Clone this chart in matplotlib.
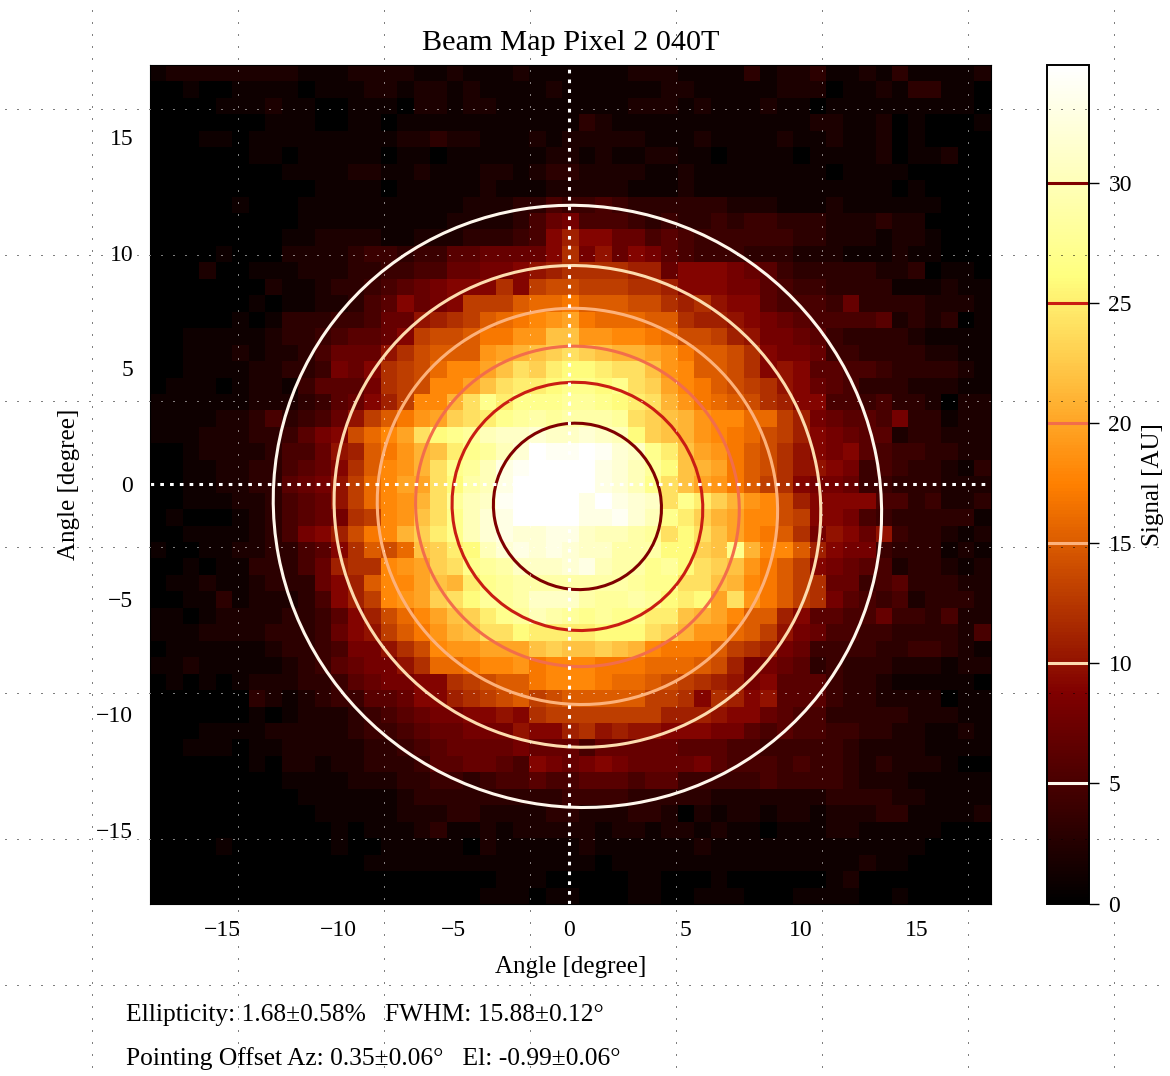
import numpy as np
import matplotlib
matplotlib.use('Agg')
import matplotlib.pyplot as plt
from matplotlib.patches import Ellipse

plt.rcParams['font.family'] = ['Liberation Serif', 'DejaVu Serif']

# Signal, top row first: columns left of the centre line
signal_left = [
    [1,2,2,2,2,2,2,2,2,1, 1,1,2,2,2,2,1,1,2,1, 1,1,2,1,1,1],
    [0,0,1,0,0,1,1,1,1,0, 1,1,1,2,2,1,2,2,1,2, 1,1,1,1,2,1],
    [0,0,0,0,1,1,1,2,1,1, 0,0,1,1,1,0,2,2,1,2, 2,1,1,1,1,1],
    [0,0,0,0,0,0,0,1,1,1, 0,0,1,1,0,1,1,1,1,1, 1,1,1,1,1,1],
    [0,0,0,1,1,0,1,1,1,1, 1,1,1,1,1,2,2,3,2,2, 1,1,1,2,1,2],
    [0,0,0,0,0,0,1,1,0,1, 1,1,1,1,0,1,1,0,1,1, 1,1,1,1,2,2],
    [0,0,0,0,0,0,0,0,1,1, 1,1,2,2,1,1,2,1,1,1, 2,2,1,2,3,3],
    [0,0,0,0,0,0,0,0,0,0, 1,1,1,1,0,1,1,1,1,1, 2,1,1,1,2,2],
    [0,0,0,0,0,1,0,0,0,1, 1,1,1,1,1,1,1,1,1,2, 2,2,3,3,5,4],
    [0,0,0,0,0,0,0,0,0,1, 1,1,1,1,1,1,1,1,2,2, 2,2,3,5,7,8],
    [0,0,0,0,0,0,0,0,1,1, 2,2,2,2,1,1,2,2,2,3, 3,3,4,5,9,11],
    [0,0,0,0,1,0,0,0,2,2, 2,2,3,4,4,3,4,4,6,6, 7,7,7,7,9,12],
    [0,0,0,2,0,0,1,1,1,2, 2,2,3,3,4,4,5,5,7,7, 8,8,9,10,11,12],
    [0,0,0,0,0,0,0,2,1,1, 2,3,3,4,5,6,7,8,9,9, 9,12,9,13,14,14],
    [0,0,0,0,0,0,1,0,1,1, 2,2,3,5,6,9,7,8,9,13, 13,13,15,16,16,17],
    [0,0,0,0,0,1,0,1,3,3, 3,4,4,5,7,7,10,11,12,13, 15,16,17,18,19,20],
    [0,0,1,1,1,1,1,2,3,3, 4,5,6,6,7,9,13,14,14,15, 17,17,19,19,22,22],
    [0,0,1,1,1,2,1,2,2,3, 5,7,7,7,10,12,14,15,15,15, 19,20,21,22,23,24],
    [0,0,1,1,1,1,2,2,3,3, 4,8,7,9,12,13,14,16,18,18, 20,22,24,23,25,26],
    [0,1,1,1,0,1,2,2,1,4, 6,6,6,8,12,13,14,18,18,20, 22,24,25,25,26,27],
    [1,1,1,1,1,1,2,2,2,3, 4,6,7,9,11,13,18,18,21,24, 27,25,27,27,27,28],
    [1,1,1,1,2,2,3,5,3,4, 5,7,10,13,15,17,19,20,23,24, 25,27,28,29,28,29],
    [1,1,1,2,2,2,3,3,4,6, 8,9,14,16,18,20,24,26,27,28, 30,31,31,32,31,31],
    [0,0,1,2,2,2,2,3,5,5, 7,10,11,15,17,19,21,22,25,27, 28,30,32,35,34,34],
    [0,0,1,1,2,2,3,3,5,6, 7,9,12,15,18,19,21,24,27,28, 30,33,34,35,35,35],
    [0,0,1,1,2,2,3,3,6,7, 8,10,13,16,18,20,20,24,26,29, 30,33,35,35,35,35],
    [0,0,1,1,1,2,2,3,5,6, 7,10,13,16,18,19,21,24,28,30, 31,34,35,35,35,35],
    [0,1,0,0,0,1,2,3,5,6, 7,8,12,13,18,19,22,24,27,30, 32,33,35,35,35,35],
    [0,0,1,1,1,1,2,3,5,8, 9,11,14,17,18,21,23,25,27,30, 32,33,32,32,33,33],
    [1,0,0,1,1,2,2,3,3,5, 6,9,12,15,14,16,22,23,25,26, 30,32,33,32,33,32],
    [0,0,1,0,1,1,3,3,3,5, 7,11,12,12,18,19,20,23,24,27, 28,29,31,31,31,32],
    [0,1,1,2,1,1,2,3,3,3, 7,9,11,15,18,18,20,22,21,25, 27,28,29,29,29,29],
    [0,0,1,1,3,1,2,2,2,3, 5,9,11,13,18,19,20,23,24,26, 28,28,29,31,31,31],
    [1,1,0,1,2,2,2,2,3,3, 4,6,9,11,14,16,18,20,22,23, 25,27,28,30,29,28],
    [1,1,1,2,2,2,2,3,3,3, 4,7,9,10,13,15,17,19,21,22, 24,24,26,25,25,25],
    [0,1,1,1,1,1,1,2,3,3, 4,5,8,8,10,12,14,18,19,19, 20,20,20,22,23,22],
    [1,1,2,1,1,1,1,1,2,3, 4,6,7,8,8,10,12,16,16,17, 18,18,19,17,18,18],
    [0,1,0,1,0,1,2,2,2,3, 3,4,6,7,8,8,9,9,12,13, 14,15,15,17,18,18],
    [0,0,0,0,0,0,3,2,1,2, 3,4,4,6,6,7,9,9,11,12, 13,14,15,13,14,15],
    [0,0,0,0,0,0,1,0,1,2, 2,2,3,4,5,6,7,8,8,9, 9,10,9,12,13,13],
    [0,0,0,1,1,1,1,2,2,2, 2,2,3,4,4,5,6,7,7,8, 8,8,10,9,9,11],
    [0,0,1,1,1,0,1,1,2,2, 2,2,2,3,3,4,5,6,7,7, 7,7,8,7,7,7],
    [0,0,0,0,0,0,1,0,2,2, 1,2,2,3,3,3,4,6,6,7, 7,6,5,9,8,7],
    [0,0,0,0,0,0,0,0,1,1, 1,1,2,2,2,3,3,4,4,3, 4,5,5,6,5,5],
    [0,0,0,0,0,0,0,0,0,1, 1,1,1,1,1,2,3,3,3,3, 3,3,3,3,3,4],
    [0,0,0,0,0,0,0,0,0,0, 1,1,1,1,1,2,2,2,3,3, 2,2,2,2,3,3],
    [0,0,0,0,0,0,0,0,0,0, 0,1,0,1,1,1,2,3,1,1, 2,1,2,2,2,2],
    [0,0,0,0,1,0,0,0,0,0, 0,1,0,0,1,1,1,1,1,0, 2,1,1,1,1,1],
    [0,0,0,0,0,0,0,0,0,0, 0,0,0,1,1,1,1,1,1,1, 1,1,1,1,1,1],
    [0,0,0,0,0,0,0,0,0,0, 0,0,0,0,0,0,0,0,0,0, 0,1,1,1,0,0],
    [0,0,0,0,0,0,0,0,0,0, 0,0,0,0,0,0,0,0,0,0, 1,1,1,0,1,1],
]

# same rows, columns right of the centre line
signal_right = [
    [1,1,1,2,2,2,1,1,1,1, 3,1,2,2,3,1,1,2,1,3, 1,1,1,1,2],
    [1,1,1,1,1,2,2,1,1,1, 1,1,2,2,2,0,1,1,2,1, 3,3,1,1,0],
    [1,1,1,2,2,2,1,2,1,1, 1,2,1,1,0,1,1,1,1,1, 1,1,1,1,0],
    [3,2,1,1,1,1,1,1,1,1, 1,1,1,1,2,2,1,1,2,0, 1,0,0,0,1],
    [2,2,2,2,1,1,1,2,1,1, 1,1,2,1,1,2,1,1,2,0, 1,0,0,0,0],
    [1,2,1,1,2,2,1,1,0,1, 1,1,1,0,1,1,1,1,2,0, 1,1,2,0,0],
    [2,2,2,2,1,1,2,1,1,1, 1,1,1,1,1,0,1,1,1,1, 0,0,0,0,0],
    [2,2,2,1,1,1,2,1,1,1, 1,1,1,1,1,1,1,1,1,0, 1,0,0,0,0],
    [4,5,4,3,3,3,3,3,3,2, 2,2,1,1,1,2,1,1,1,1, 1,1,0,0,0],
    [5,5,5,4,3,4,3,3,4,3, 4,4,3,3,3,2,2,2,3,2, 2,0,0,0,0],
    [9,9,7,7,5,6,5,4,4,4, 4,4,4,3,3,2,2,2,1,2, 2,1,0,0,0],
    [8,10,7,9,8,6,5,4,4,4, 3,3,3,2,2,2,1,1,1,2, 1,1,0,0,0],
    [12,12,12,11,11,7,9,9,9,8, 7,6,4,3,3,3,3,3,2,2, 3,0,1,1,0],
    [13,13,13,12,12,11,9,9,9,8, 8,6,5,4,4,3,3,3,3,1, 1,1,2,1,1],
    [15,15,15,14,14,12,11,12,10,9, 9,6,5,5,5,4,7,3,3,3, 3,2,2,2,1],
    [17,16,16,16,15,15,12,11,11,10, 9,8,7,6,5,5,5,5,6,2, 3,2,3,0,1],
    [19,19,18,18,17,16,14,14,13,11, 10,8,8,7,6,4,3,3,3,3, 2,1,1,1,1],
    [23,22,21,21,20,19,17,15,15,14, 12,9,8,8,7,4,4,3,3,3, 3,2,2,1,1],
    [26,25,24,24,22,19,18,15,15,14, 12,9,10,9,6,6,5,5,4,3, 3,3,3,2,1],
    [27,26,27,24,23,20,18,17,15,14, 13,12,10,9,7,6,5,3,3,3, 2,2,2,1,1],
    [28,27,26,25,24,21,19,17,16,15, 14,12,11,9,9,5,5,4,5,3, 3,2,0,2,2],
    [29,29,28,24,23,22,21,19,18,18, 16,16,13,11,8,7,6,6,5,8, 3,3,1,2,2],
    [32,31,30,26,23,22,21,19,18,17, 16,14,13,11,9,8,7,6,6,2, 3,3,2,2,2],
    [35,34,32,31,27,25,22,20,19,17, 15,14,12,10,9,8,9,6,5,4, 4,3,3,2,2],
    [35,33,32,30,28,26,22,21,20,17, 15,14,12,10,10,9,8,4,5,4, 3,3,2,1,3],
    [35,33,32,30,27,24,22,20,19,17, 15,13,12,9,8,8,7,4,4,3, 3,3,2,2,2],
    [33,35,33,32,31,24,27,25,23,21, 19,18,14,11,9,9,9,9,5,5, 3,4,2,2,3],
    [33,33,34,32,30,27,25,23,21,20, 18,18,14,13,9,9,8,5,4,3, 3,3,3,3,1],
    [31,30,30,29,28,24,26,24,22,20, 18,17,15,12,8,10,9,7,10,4, 3,3,2,1,2],
    [31,31,29,29,29,26,26,23,22,27, 21,18,18,15,11,9,8,8,4,3, 3,3,1,2,1],
    [33,30,29,29,27,28,26,24,23,22, 19,17,15,13,9,8,7,6,5,2, 3,3,2,1,2],
    [29,29,29,28,27,27,24,24,22,21, 18,17,15,13,12,7,7,4,5,6, 3,3,3,2,2],
    [29,28,28,29,28,26,25,26,20,24, 19,17,15,13,12,8,6,5,4,5, 2,3,3,3,2],
    [27,28,27,27,25,25,22,21,20,18, 15,15,11,9,6,6,5,5,7,4, 4,3,5,2,2],
    [25,26,26,26,24,23,21,19,19,16, 15,13,10,8,7,5,5,4,4,3, 3,3,3,2,5],
    [22,23,22,21,18,17,17,17,15,13, 12,11,8,7,4,4,4,4,3,3, 4,4,3,2,1],
    [18,17,17,17,16,16,16,15,14,11, 8,8,7,6,3,4,3,3,3,2, 2,2,1,2,2],
    [18,17,16,16,15,14,13,12,11,10, 8,9,6,6,6,4,3,3,2,1, 1,1,1,1,0],
    [15,15,15,15,13,13,12,9,12,11, 9,10,6,6,6,4,3,3,2,2, 2,2,0,1,1],
    [13,13,13,13,13,11,11,11,10,9, 9,7,6,5,5,3,3,3,3,3, 2,2,2,1,1],
    [12,10,11,10,10,9,9,9,8,8, 6,5,6,5,5,4,4,3,3,2, 2,1,1,2,1],
    [5,7,7,7,7,7,6,6,6,5, 5,4,4,4,4,4,3,2,2,2, 2,1,1,1,1],
    [8,9,8,7,7,7,7,8,6,5, 5,5,4,5,4,4,3,2,3,2, 2,2,1,0,0],
    [6,6,6,5,6,6,4,4,4,4, 4,5,4,4,4,4,3,2,2,2, 1,1,1,1,1],
    [4,4,4,3,3,3,3,3,2,2, 2,2,2,2,2,3,3,3,3,2, 2,1,1,1,1],
    [2,2,2,3,3,2,0,2,1,2, 2,1,2,2,1,2,2,2,3,3, 1,1,1,1,2],
    [2,1,2,2,1,2,2,1,2,1, 1,0,1,1,1,2,2,1,1,1, 1,1,0,0,0],
    [2,1,1,1,1,1,1,2,1,1, 1,1,1,1,1,1,1,1,1,1, 1,0,0,0,0],
    [1,0,1,1,1,1,1,1,1,1, 1,1,1,1,1,1,1,2,1,1, 0,0,0,0,0],
    [0,0,0,1,1,0,0,0,1,0, 0,0,0,0,0,1,2,0,0,0, 0,0,0,0,0],
    [0,0,0,1,1,0,0,1,1,1, 0,0,0,1,1,1,1,0,0,1, 0,0,0,0,0],
]

# Fitted contours
levels = [5, 10, 15, 20, 25, 30]
contour_major = [13.25, 10.6, 8.72, 7.05, 5.46, 3.66]
contour_minor = [12.95, 10.36, 8.52, 6.89, 5.34, 3.58]
tilt = -35
offset_az = 0.35
offset_el = -0.99

ticks = [-15, -10, -5, 0, 5, 10, 15]
cbar_ticks = [0, 5, 10, 15, 20, 25, 30]

W, H = 1170, 1076
fig = plt.figure(figsize=(W / 100, H / 100), dpi=100)

signal = np.hstack([np.array(signal_left), np.array(signal_right)])

ax = fig.add_axes([150 / W, 1 - 903.5 / H, 840.5 / W, 838.5 / H], zorder=3)
im = ax.imshow(signal, cmap='afmhot', vmin=0, vmax=34.9, interpolation='nearest',
               extent=(-18.13, 18.21, -18.2, 18.14), aspect='auto')

line_colors = plt.cm.OrRd(np.linspace(0, 1, len(levels)))
for i in range(len(levels)):
    ax.add_patch(Ellipse((offset_az, offset_el), 2 * contour_major[i], 2 * contour_minor[i],
                         angle=tilt, fill=False, edgecolor=line_colors[i], linewidth=2.2))

ax.axvline(0, color='white', linewidth=2.2, linestyle=(0, (1.2, 2)))
ax.axhline(0, color='white', linewidth=2.2, linestyle=(0, (1.2, 2)))

ax.set_xticks(ticks)
ax.set_yticks(ticks)
ax.tick_params(length=0, labelsize=17, pad=12)
ax.set_xlabel('Angle [degree]', fontsize=18, labelpad=10.5)
ax.set_ylabel('Angle [degree]', fontsize=18, labelpad=12)
ax.set_title('Beam Map Pixel 2 040T', fontsize=21.8, pad=10.5)

cax = fig.add_axes([1047 / W, 1 - 903.5 / H, 42 / W, 838.5 / H], zorder=1)
cbar = fig.colorbar(im, cax=cax, ticks=cbar_ticks)
cbar.add_lines(levels, line_colors, [2.2] * len(levels))
cbar.ax.tick_params(length=7, width=1, labelsize=17, pad=7)
cbar.set_label('Signal [AU]', fontsize=18, labelpad=7)
cbar.outline.set_linewidth(1.4)

# Stray dotted grid over the whole page: black outside the map, white on it
dots = (0, (1, 11))
page = fig.add_axes([0, 0, 1, 1], zorder=2)
page_top = fig.add_axes([0, 0, 1, 1], zorder=4)
for a in (page, page_top):
    a.set_xlim(0, W)
    a.set_ylim(H, 0)
    a.axis('off')
    a.patch.set_alpha(0)
for a, c in ((page, 'black'), (page_top, 'white')):
    v = a.vlines(np.arange(92, W, 146), 10, H, color=c, linewidth=0.72, linestyle=dots)
    h = a.hlines(np.arange(109, H, 146), 5, 1165, color=c, linewidth=0.72, linestyle=dots)
    if c == 'white':
        v.set_clip_box(ax.bbox)
        h.set_clip_box(ax.bbox)

fig.text(126 / W, 1 - 1015 / H, 'Ellipticity: 1.68\u00b10.58%   FWHM: 15.88\u00b10.12\u00b0',
         fontsize=18.4, va='center')
fig.text(126 / W, 1 - 1059 / H, 'Pointing Offset Az: 0.35\u00b10.06\u00b0   El: -0.99\u00b10.06\u00b0',
         fontsize=18.4, va='center')

plt.savefig('out.png', dpi=100)
